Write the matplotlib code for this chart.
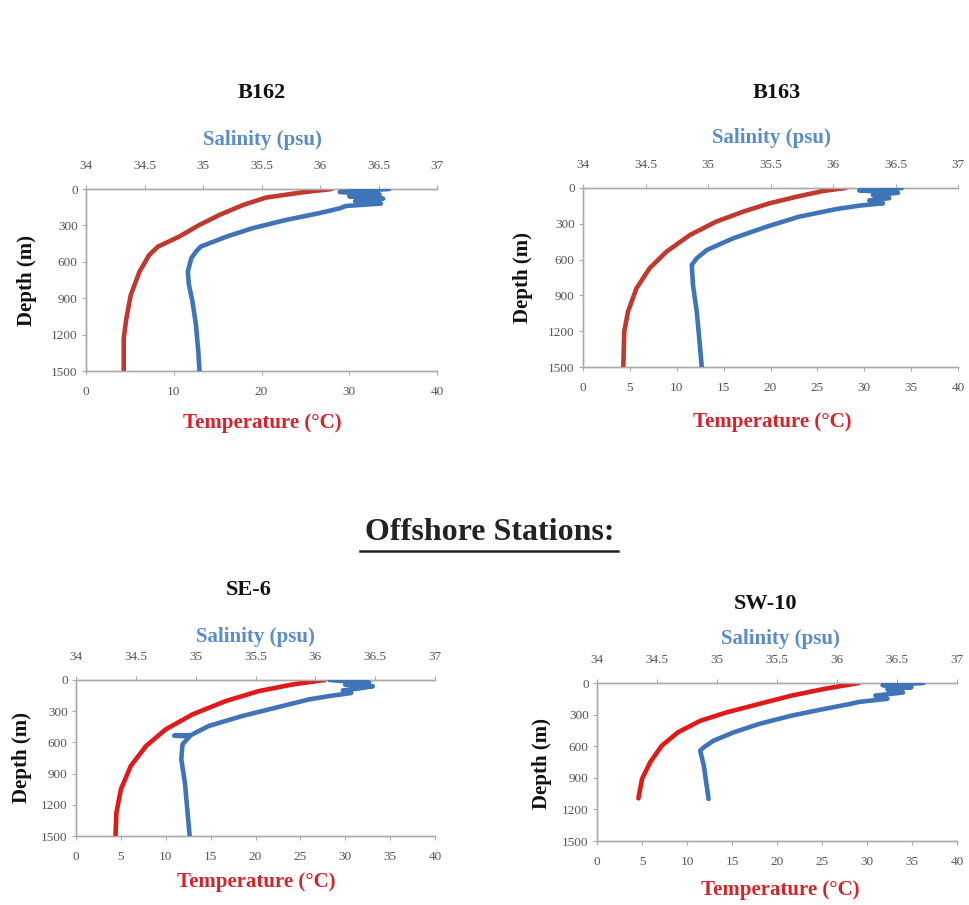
import matplotlib
matplotlib.use("Agg")
import matplotlib.pyplot as plt

SERIF = ["Liberation Serif", "DejaVu Serif"]

# ---------------- data ----------------
# B162
b162_temp_depth = [0, 27, 71, 132, 214, 297, 393, 475, 544, 681, 874, 1066, 1231, 1500]
b162_temp = [28.0, 24.7, 20.5, 17.9, 15.2, 12.9, 10.6, 8.2, 7.2, 6.1, 5.1, 4.6, 4.3, 4.3]
b162_sal_depth = [0, 25, 45, 60, 80, 100, 120, 140, 159, 200, 255, 324, 393, 475, 516, 571, 681, 791, 928, 1121, 1340, 1500]
b162_sal = [36.59, 36.17, 36.51, 36.25, 36.54, 36.30, 36.52, 36.22, 36.17, 35.99, 35.71, 35.42, 35.20, 34.98, 34.94, 34.90, 34.87, 34.88, 34.91, 34.94, 34.96, 34.97]

# B163
b163_temp_depth = [0, 25, 73, 128, 198, 282, 394, 534, 673, 841, 1036, 1204, 1500]
b163_temp = [28.0, 25.6, 22.8, 19.9, 17.1, 14.2, 11.4, 8.9, 7.1, 5.7, 4.8, 4.4, 4.3]
b163_sal_depth = [0, 20, 40, 60, 85, 105, 128, 148, 176, 240, 324, 422, 520, 589, 645, 813, 1036, 1260, 1500]
b163_sal = [36.55, 36.21, 36.52, 36.32, 36.45, 36.29, 36.40, 36.21, 36.03, 35.73, 35.47, 35.20, 34.99, 34.91, 34.87, 34.88, 34.91, 34.93, 34.95]

# SE-6
se6_temp_depth = [0, 42, 106, 202, 330, 474, 635, 827, 1051, 1276, 1500]
se6_temp = [27.7, 24.2, 20.4, 16.7, 13.0, 10.0, 7.8, 6.1, 5.0, 4.5, 4.4]
se6_sal_depth = [0, 10, 25, 45, 60, 80, 100, 125, 154, 186, 266, 346, 442, 530, 536, 542, 619, 763, 987, 1244, 1500]
se6_sal = [36.12, 36.23, 36.45, 36.25, 36.48, 36.37, 36.23, 36.30, 36.12, 35.95, 35.67, 35.39, 35.11, 34.96, 34.82, 34.95, 34.89, 34.88, 34.91, 34.93, 34.95]

# SW-10
sw10_temp_depth = [0, 57, 120, 199, 279, 358, 468, 595, 753, 911, 1095]
sw10_temp = [29.1, 25.2, 21.6, 18.0, 14.4, 11.5, 9.0, 7.2, 5.9, 5.0, 4.6]
sw10_sal_depth = [0, 20, 40, 60, 90, 120, 150, 180, 199, 247, 310, 389, 468, 548, 611, 642, 785, 943, 1101]
sw10_sal = [36.72, 36.38, 36.62, 36.42, 36.55, 36.32, 36.42, 36.18, 36.11, 35.89, 35.62, 35.35, 35.14, 34.97, 34.89, 34.86, 34.89, 34.91, 34.93]

depth_ticks = [0, 300, 600, 900, 1200, 1500]
sal_ticks = [34, 34.5, 35, 35.5, 36, 36.5, 37]
sal_tick_labels = ["34", "34.5", "35", "35.5", "36", "36.5", "37"]
temp_ticks_coarse = [0, 10, 20, 30, 40]
temp_ticks_fine = [0, 5, 10, 15, 20, 25, 30, 35, 40]

stations = ["B162", "B163", "SE-6", "SW-10"]
heading = "Offshore Stations:"

# ---------------- figure ----------------
fig = plt.figure(figsize=(9.69, 9.05), dpi=100)

def px2fig(x, y):
    return x / 969.0, 1 - y / 905.0

panels = [
    dict(name=stations[0], box=(86, 189, 437, 371), tdep=b162_temp_depth, t=b162_temp,
         sdep=b162_sal_depth, s=b162_sal, tticks=temp_ticks_coarse, red="#C0392F",
         title=(262, 93), sal=(262, 140), temp=(262, 423), depth=(27, 280)),
    dict(name=stations[1], box=(583, 188, 958, 367), tdep=b163_temp_depth, t=b163_temp,
         sdep=b163_sal_depth, s=b163_sal, tticks=temp_ticks_fine, red="#C0392F",
         title=(777, 93), sal=(771, 138), temp=(772, 422), depth=(523, 277)),
    dict(name=stations[2], box=(76, 680, 435, 836), tdep=se6_temp_depth, t=se6_temp,
         sdep=se6_sal_depth, s=se6_sal, tticks=temp_ticks_fine, red="#E0191B",
         title=(249, 590), sal=(255, 637), temp=(256, 882), depth=(22, 757)),
    dict(name=stations[3], box=(597, 683, 957, 841), tdep=sw10_temp_depth, t=sw10_temp,
         sdep=sw10_sal_depth, s=sw10_sal, tticks=temp_ticks_fine, red="#E0191B",
         title=(766, 604), sal=(780, 639), temp=(780, 890), depth=(542, 763)),
]

blue = "#3F74B8"
spine_col = "#AAAAAA"
tick_col = "#555555"

for p in panels:
    x0, y0, x1, y1 = p["box"]
    l, t = px2fig(x0, y0)
    r, b = px2fig(x1, y1)
    ax = fig.add_axes([l, b, r - l, t - b])
    ax.set_xlim(0, 40)
    ax.set_ylim(1500, 0)
    ax.set_yticks(depth_ticks)
    ax.set_xticks(p["tticks"])
    ax.plot(p["t"], p["tdep"], color=p["red"], lw=3.3, solid_capstyle="round",
            solid_joinstyle="round", zorder=3)

    ax2 = ax.twiny()
    ax2.set_xlim(34, 37)
    ax2.set_xticks(sal_ticks)
    ax2.set_xticklabels(sal_tick_labels)
    ax2.plot(p["s"], p["sdep"], color=blue, lw=3.3, solid_capstyle="round",
             solid_joinstyle="round", zorder=3)

    for a in (ax, ax2):
        a.spines["right"].set_visible(False)
        for side in ("left", "top", "bottom"):
            a.spines[side].set_color(spine_col)
            a.spines[side].set_linewidth(1.0)
        a.tick_params(length=3, width=0.8, color=spine_col, labelcolor=tick_col,
                      labelsize=9.5)
        for lab in a.get_xticklabels() + a.get_yticklabels():
            lab.set_fontfamily(SERIF)
    ax.tick_params(axis="x", pad=8)
    ax.tick_params(axis="y", pad=3)
    ax2.tick_params(axis="x", pad=9)

    fx, fy = px2fig(*p["title"])
    fig.text(fx, fy, p["name"], ha="center", va="center", fontsize=16,
             fontweight="bold", family=SERIF, color="#111111")
    fx, fy = px2fig(*p["sal"])
    fig.text(fx, fy, "Salinity (psu)", ha="center", va="center", fontsize=15,
             fontweight="bold", family=SERIF, color="#5B8BC9")
    fx, fy = px2fig(*p["temp"])
    fig.text(fx, fy, "Temperature (\u00b0C)", ha="center", va="center", fontsize=15,
             fontweight="bold", family=SERIF, color="#D6232A")
    fx, fy = px2fig(*p["depth"])
    fig.text(fx, fy, "Depth (m)", ha="center", va="center", fontsize=15, rotation=90,
             fontweight="bold", family=SERIF, color="#111111")

fx, fy = px2fig(490, 533)
fig.text(fx, fy, heading, ha="center", va="center", fontsize=23,
         fontweight="bold", family=SERIF, color="#222222")
ux0, uy = px2fig(360, 551)
ux1, _ = px2fig(618, 551)
fig.add_artist(plt.Line2D([ux0, ux1], [uy, uy], transform=fig.transFigure,
                          color="#222222", lw=1.8))

fig.savefig("out.png", dpi=100, facecolor="white")
